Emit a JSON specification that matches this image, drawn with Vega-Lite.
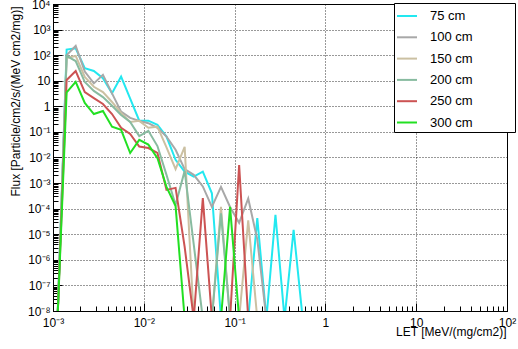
{
  "$schema": "https://vega.github.io/schema/vega-lite/v6.json",
  "width": 454,
  "height": 307,
  "autosize": {"type": "none"},
  "padding": {"left": 53, "top": 4, "right": 11, "bottom": 38},
  "background": "white",
  "config": {
    "view": {"stroke": "black", "strokeWidth": 1},
    "font": "Liberation Sans",
    "axis": {
      "domainColor": "black",
      "tickColor": "black",
      "labelColor": "black",
      "titleColor": "black",
      "labelFont": "Liberation Sans",
      "titleFont": "Liberation Sans",
      "labelFontSize": 12,
      "titleFontSize": 12,
      "titleFontWeight": "normal",
      "gridColor": "black",
      "gridDash": [1, 2],
      "gridWidth": 1,
      "zindex": 1
    }
  },
  "data": {
    "values": [
      {"s": "75 cm", "x": 0.001122, "y": 5e-9},
      {"s": "75 cm", "x": 0.001413, "y": 166},
      {"s": "75 cm", "x": 0.001778, "y": 186},
      {"s": "75 cm", "x": 0.002239, "y": 30.9},
      {"s": "75 cm", "x": 0.002818, "y": 24},
      {"s": "75 cm", "x": 0.003548, "y": 12.6},
      {"s": "75 cm", "x": 0.004467, "y": 3.24},
      {"s": "75 cm", "x": 0.005623, "y": 14.5},
      {"s": "75 cm", "x": 0.007079, "y": 2.0},
      {"s": "75 cm", "x": 0.008913, "y": 0.275},
      {"s": "75 cm", "x": 0.01122, "y": 0.275},
      {"s": "75 cm", "x": 0.01413, "y": 0.19},
      {"s": "75 cm", "x": 0.01778, "y": 0.066},
      {"s": "75 cm", "x": 0.02239, "y": 0.0081},
      {"s": "75 cm", "x": 0.02818, "y": 0.0028},
      {"s": "75 cm", "x": 0.03548, "y": 0.0018},
      {"s": "75 cm", "x": 0.04467, "y": 0.0028},
      {"s": "75 cm", "x": 0.05623, "y": 0.0004},
      {"s": "75 cm", "x": 0.07079, "y": 5e-9},
      {"s": "75 cm", "x": 0.08913, "y": 5e-9},
      {"s": "75 cm", "x": 0.1122, "y": 5e-9},
      {"s": "75 cm", "x": 0.1413, "y": 5e-9},
      {"s": "75 cm", "x": 0.1778, "y": 4.3e-5},
      {"s": "75 cm", "x": 0.2239, "y": 5e-9},
      {"s": "75 cm", "x": 0.2818, "y": 5.8e-5},
      {"s": "75 cm", "x": 0.3548, "y": 5e-9},
      {"s": "75 cm", "x": 0.4467, "y": 1.5e-5},
      {"s": "75 cm", "x": 0.5623, "y": 5e-9},

      {"s": "100 cm", "x": 0.001122, "y": 5e-9},
      {"s": "100 cm", "x": 0.001413, "y": 100},
      {"s": "100 cm", "x": 0.001778, "y": 229},
      {"s": "100 cm", "x": 0.002239, "y": 22.9},
      {"s": "100 cm", "x": 0.002818, "y": 7.9},
      {"s": "100 cm", "x": 0.003548, "y": 17},
      {"s": "100 cm", "x": 0.004467, "y": 3.2},
      {"s": "100 cm", "x": 0.005623, "y": 0.62},
      {"s": "100 cm", "x": 0.007079, "y": 0.355},
      {"s": "100 cm", "x": 0.008913, "y": 0.27},
      {"s": "100 cm", "x": 0.01122, "y": 0.22},
      {"s": "100 cm", "x": 0.01413, "y": 0.145},
      {"s": "100 cm", "x": 0.01778, "y": 0.066},
      {"s": "100 cm", "x": 0.02239, "y": 0.02},
      {"s": "100 cm", "x": 0.02818, "y": 0.0035},
      {"s": "100 cm", "x": 0.03548, "y": 0.0021},
      {"s": "100 cm", "x": 0.04467, "y": 0.00074},
      {"s": "100 cm", "x": 0.05623, "y": 0.000117},
      {"s": "100 cm", "x": 0.07079, "y": 0.00071},
      {"s": "100 cm", "x": 0.08913, "y": 0.000117},
      {"s": "100 cm", "x": 0.1122, "y": 2.8e-5},
      {"s": "100 cm", "x": 0.1413, "y": 0.00025},
      {"s": "100 cm", "x": 0.1778, "y": 6.3e-6},
      {"s": "100 cm", "x": 0.2239, "y": 5e-9},

      {"s": "150 cm", "x": 0.001122, "y": 5e-9},
      {"s": "150 cm", "x": 0.001413, "y": 78},
      {"s": "150 cm", "x": 0.001778, "y": 93},
      {"s": "150 cm", "x": 0.002239, "y": 14},
      {"s": "150 cm", "x": 0.002818, "y": 5.8},
      {"s": "150 cm", "x": 0.003548, "y": 3.6},
      {"s": "150 cm", "x": 0.004467, "y": 1.48},
      {"s": "150 cm", "x": 0.005623, "y": 0.55},
      {"s": "150 cm", "x": 0.007079, "y": 0.245},
      {"s": "150 cm", "x": 0.008913, "y": 0.27},
      {"s": "150 cm", "x": 0.01122, "y": 0.145},
      {"s": "150 cm", "x": 0.01413, "y": 0.16},
      {"s": "150 cm", "x": 0.01778, "y": 0.025},
      {"s": "150 cm", "x": 0.02239, "y": 0.0035},
      {"s": "150 cm", "x": 0.02818, "y": 0.026},
      {"s": "150 cm", "x": 0.03548, "y": 5e-9},
      {"s": "150 cm", "x": 0.04467, "y": 5e-9},
      {"s": "150 cm", "x": 0.05623, "y": 5e-9},
      {"s": "150 cm", "x": 0.07079, "y": 0.000117},
      {"s": "150 cm", "x": 0.08913, "y": 5e-9},
      {"s": "150 cm", "x": 0.1122, "y": 5e-9},
      {"s": "150 cm", "x": 0.1413, "y": 3.5e-5},
      {"s": "150 cm", "x": 0.1778, "y": 5e-9},

      {"s": "200 cm", "x": 0.001122, "y": 5e-9},
      {"s": "200 cm", "x": 0.001413, "y": 93},
      {"s": "200 cm", "x": 0.001778, "y": 59},
      {"s": "200 cm", "x": 0.002239, "y": 8.9},
      {"s": "200 cm", "x": 0.002818, "y": 4.0},
      {"s": "200 cm", "x": 0.003548, "y": 2.3},
      {"s": "200 cm", "x": 0.004467, "y": 1.05},
      {"s": "200 cm", "x": 0.005623, "y": 0.46},
      {"s": "200 cm", "x": 0.007079, "y": 0.245},
      {"s": "200 cm", "x": 0.008913, "y": 0.069},
      {"s": "200 cm", "x": 0.01122, "y": 0.11},
      {"s": "200 cm", "x": 0.01413, "y": 0.028},
      {"s": "200 cm", "x": 0.01778, "y": 0.0021},
      {"s": "200 cm", "x": 0.02239, "y": 0.00014},
      {"s": "200 cm", "x": 0.02818, "y": 0.003},
      {"s": "200 cm", "x": 0.03548, "y": 4e-6},
      {"s": "200 cm", "x": 0.04467, "y": 5e-9},
      {"s": "200 cm", "x": 0.05623, "y": 5e-9},
      {"s": "200 cm", "x": 0.07079, "y": 6.5e-5},
      {"s": "200 cm", "x": 0.08913, "y": 5e-9},

      {"s": "250 cm", "x": 0.001122, "y": 5e-9},
      {"s": "250 cm", "x": 0.001413, "y": 10.7},
      {"s": "250 cm", "x": 0.001778, "y": 24},
      {"s": "250 cm", "x": 0.002239, "y": 3.6},
      {"s": "250 cm", "x": 0.002818, "y": 2.1},
      {"s": "250 cm", "x": 0.003548, "y": 1.23},
      {"s": "250 cm", "x": 0.004467, "y": 0.5},
      {"s": "250 cm", "x": 0.005623, "y": 0.145},
      {"s": "250 cm", "x": 0.007079, "y": 0.083},
      {"s": "250 cm", "x": 0.008913, "y": 0.027},
      {"s": "250 cm", "x": 0.01122, "y": 0.0234},
      {"s": "250 cm", "x": 0.01413, "y": 0.015},
      {"s": "250 cm", "x": 0.01778, "y": 0.00054},
      {"s": "250 cm", "x": 0.02239, "y": 0.00065},
      {"s": "250 cm", "x": 0.02818, "y": 3.2e-6},
      {"s": "250 cm", "x": 0.03548, "y": 5e-9},
      {"s": "250 cm", "x": 0.04467, "y": 0.00026},
      {"s": "250 cm", "x": 0.05623, "y": 5e-9},
      {"s": "250 cm", "x": 0.07079, "y": 5e-9},
      {"s": "250 cm", "x": 0.08913, "y": 5e-9},
      {"s": "250 cm", "x": 0.1122, "y": 0.0051},
      {"s": "250 cm", "x": 0.1413, "y": 5e-9},

      {"s": "300 cm", "x": 0.001122, "y": 5e-9},
      {"s": "300 cm", "x": 0.001413, "y": 3.5},
      {"s": "300 cm", "x": 0.001778, "y": 9.1},
      {"s": "300 cm", "x": 0.002239, "y": 1.35},
      {"s": "300 cm", "x": 0.002818, "y": 0.5},
      {"s": "300 cm", "x": 0.003548, "y": 0.66},
      {"s": "300 cm", "x": 0.004467, "y": 0.16},
      {"s": "300 cm", "x": 0.005623, "y": 0.12},
      {"s": "300 cm", "x": 0.007079, "y": 0.015},
      {"s": "300 cm", "x": 0.008913, "y": 0.049},
      {"s": "300 cm", "x": 0.01122, "y": 0.032},
      {"s": "300 cm", "x": 0.01413, "y": 0.0095},
      {"s": "300 cm", "x": 0.01778, "y": 0.00071},
      {"s": "300 cm", "x": 0.02239, "y": 0.000126},
      {"s": "300 cm", "x": 0.02818, "y": 5e-9},
      {"s": "300 cm", "x": 0.03548, "y": 5e-9},
      {"s": "300 cm", "x": 0.04467, "y": 5e-9},
      {"s": "300 cm", "x": 0.05623, "y": 5e-9},
      {"s": "300 cm", "x": 0.07079, "y": 5e-9},
      {"s": "300 cm", "x": 0.08913, "y": 0.000117},
      {"s": "300 cm", "x": 0.1122, "y": 5e-9}
    ]
  },
  "mark": {"type": "line", "strokeWidth": 2, "clip": true},
  "encoding": {
    "x": {
      "field": "x",
      "type": "quantitative",
      "scale": {"type": "log", "domain": [0.001, 100], "nice": false},
      "axis": {
        "title": "LET [MeV/(mg/cm2)]",
        "titleAnchor": "end",
        "titleAlign": "right",
        "titleX": 453,
        "titleY": 24,
        "titleBaseline": "alphabetic",
        "values": [0.001, 0.002, 0.003, 0.004, 0.005, 0.006, 0.007, 0.008, 0.009,
                   0.01, 0.02, 0.03, 0.04, 0.05, 0.06, 0.07, 0.08, 0.09,
                   0.1, 0.2, 0.3, 0.4, 0.5, 0.6, 0.7, 0.8, 0.9,
                   1, 2, 3, 4, 5, 6, 7, 8, 9,
                   10, 20, 30, 40, 50, 60, 70, 80, 90, 100],
        "labelExpr": "abs(log(datum.value)/LN10 - round(log(datum.value)/LN10)) > 1e-6 ? '' : round(log(datum.value)/LN10) == 0 ? '1' : round(log(datum.value)/LN10) == 1 ? '10' : '10' + (datum.value < 1 ? '⁻' : '') + substring('⁰¹²³⁴⁵⁶⁷⁸⁹', abs(round(log(datum.value)/LN10)), abs(round(log(datum.value)/LN10)) + 1)",
        "labelFlush": false,
        "labelOverlap": false,
        "labelPadding": 14,
        "tickSize": {"condition": {"test": "abs(log(datum.value)/LN10 - round(log(datum.value)/LN10)) < 1e-6", "value": -8}, "value": -5},
        "gridOpacity": {"condition": {"test": "abs(log(datum.value)/LN10 - round(log(datum.value)/LN10)) < 1e-6", "value": 0.8}, "value": 0}
      }
    },
    "y": {
      "field": "y",
      "type": "quantitative",
      "scale": {"type": "log", "domain": [1e-8, 10000], "nice": false},
      "axis": {
        "title": "Flux [Particle/cm2/s/(MeV cm2/mg)]",
        "titleAnchor": "end",
        "titleAlign": "right",
        "titleAngle": 270,
        "titleBaseline": "middle",
        "titleX": -38,
        "titleY": 2,
        "values": [1e-8, 2e-8, 3e-8, 4e-8, 5e-8, 6e-8, 7e-8, 8e-8, 9e-8,
                   1e-7, 2e-7, 3e-7, 4e-7, 5e-7, 6e-7, 7e-7, 8e-7, 9e-7,
                   1e-6, 2e-6, 3e-6, 4e-6, 5e-6, 6e-6, 7e-6, 8e-6, 9e-6,
                   1e-5, 2e-5, 3e-5, 4e-5, 5e-5, 6e-5, 7e-5, 8e-5, 9e-5,
                   0.0001, 0.0002, 0.0003, 0.0004, 0.0005, 0.0006, 0.0007, 0.0008, 0.0009,
                   0.001, 0.002, 0.003, 0.004, 0.005, 0.006, 0.007, 0.008, 0.009,
                   0.01, 0.02, 0.03, 0.04, 0.05, 0.06, 0.07, 0.08, 0.09,
                   0.1, 0.2, 0.3, 0.4, 0.5, 0.6, 0.7, 0.8, 0.9,
                   1, 2, 3, 4, 5, 6, 7, 8, 9,
                   10, 20, 30, 40, 50, 60, 70, 80, 90,
                   100, 200, 300, 400, 500, 600, 700, 800, 900,
                   1000, 2000, 3000, 4000, 5000, 6000, 7000, 8000, 9000, 10000],
        "labelExpr": "abs(log(datum.value)/LN10 - round(log(datum.value)/LN10)) > 1e-6 ? '' : round(log(datum.value)/LN10) == 0 ? '1' : round(log(datum.value)/LN10) == 1 ? '10' : '10' + (datum.value < 1 ? '⁻' : '') + substring('⁰¹²³⁴⁵⁶⁷⁸⁹', abs(round(log(datum.value)/LN10)), abs(round(log(datum.value)/LN10)) + 1)",
        "labelFlush": false,
        "labelOverlap": false,
        "labelPadding": 12,
        "tickSize": {"condition": {"test": "abs(log(datum.value)/LN10 - round(log(datum.value)/LN10)) < 1e-6", "value": -9}, "value": -5},
        "gridOpacity": {"condition": {"test": "abs(log(datum.value)/LN10 - round(log(datum.value)/LN10)) < 1e-6", "value": 0.8}, "value": 0}
      }
    },
    "color": {
      "field": "s",
      "type": "nominal",
      "scale": {
        "domain": ["75 cm", "100 cm", "150 cm", "200 cm", "250 cm", "300 cm"],
        "range": ["#22e8f0", "#a8a8a8", "#cbc0a2", "#88bba0", "#cc5353", "#22e022"]
      },
      "legend": {
        "title": null,
        "orient": "none",
        "legendX": 341,
        "legendY": -1,
        "padding": 2,
        "fillColor": "white",
        "strokeColor": "black",
        "cornerRadius": 0,
        "symbolType": "stroke",
        "symbolSize": 400,
        "symbolStrokeWidth": 2,
        "labelFont": "Liberation Sans",
        "labelFontSize": 13,
        "labelColor": "black",
        "labelOffset": 12,
        "rowPadding": 3.3,
        "labelExpr": "datum.label + '\u2800\u2800\u2800\u2800'"
      }
    }
  }
}
